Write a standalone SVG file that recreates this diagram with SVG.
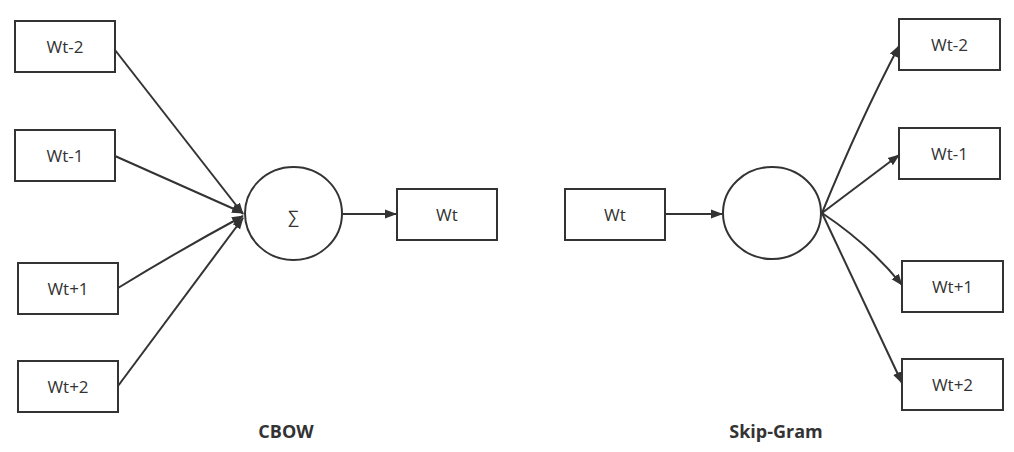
<svg xmlns="http://www.w3.org/2000/svg" width="1014" height="452" viewBox="0 0 1014 452">
<style>
.box{fill:#fff;stroke:#333;stroke-width:2}
.t{font-family:"Open Sans","Noto Sans",sans-serif;font-size:17px;fill:#333;text-anchor:middle;dominant-baseline:central}
.b{font-family:"Open Sans","Noto Sans",sans-serif;font-size:18px;font-weight:bold;fill:#333;text-anchor:middle}
.c{fill:none;stroke:#333;stroke-width:2}
</style>
<defs>
<marker id="ah" viewBox="0 0 12 10" refX="11" refY="5" markerWidth="12" markerHeight="10" markerUnits="userSpaceOnUse" orient="auto">
<path d="M0,0.5 L12,5 L0,9.5 Z" fill="#333"/>
</marker>
</defs>
<rect width="1014" height="452" fill="#fff"/>
<g id="connectors">
<path class="c" d="M115,50 L243,214" marker-end="url(#ah)"/>
<path class="c" d="M115,156 L243,213" marker-end="url(#ah)"/>
<path class="c" d="M118,288 Q180,250 243,216" marker-end="url(#ah)"/>
<path class="c" d="M118,386 L243,218" marker-end="url(#ah)"/>
<path class="c" d="M343,214 L396,214" marker-end="url(#ah)"/>
<path class="c" d="M665,214 L722,214" marker-end="url(#ah)"/>
<path class="c" d="M822,213 Q860,120 899,46" marker-end="url(#ah)"/>
<path class="c" d="M822,213 L899,155" marker-end="url(#ah)"/>
<path class="c" d="M822,213 Q870,245 902,285" marker-end="url(#ah)"/>
<path class="c" d="M822,213 L902,383" marker-end="url(#ah)"/>
</g>
<g id="cbow-wt-2"><rect class="box" x="15" y="21" width="100" height="51"/><text class="t" x="65" y="46.5">Wt-2</text></g>
<g id="cbow-wt-1"><rect class="box" x="15" y="130" width="100" height="51"/><text class="t" x="65" y="155.5">Wt-1</text></g>
<g id="cbow-wt+1"><rect class="box" x="18" y="263" width="100" height="51"/><text class="t" x="68" y="288.5">Wt+1</text></g>
<g id="cbow-wt+2"><rect class="box" x="18" y="361" width="100" height="51"/><text class="t" x="68" y="386.5">Wt+2</text></g>
<g id="cbow-sum"><ellipse class="box" cx="293.5" cy="213.5" rx="48.5" ry="46.5"/><text class="t" x="293.5" y="216">∑</text></g>
<g id="cbow-wt"><rect class="box" x="397" y="189" width="100" height="51"/><text class="t" x="447" y="214.5">Wt</text></g>
<g id="sg-wt"><rect class="box" x="565" y="189" width="100" height="51"/><text class="t" x="615" y="214.5">Wt</text></g>
<g id="sg-hidden"><ellipse class="box" cx="772" cy="213" rx="49" ry="46"/></g>
<g id="sg-wt-2"><rect class="box" x="899" y="19" width="101" height="51"/><text class="t" x="949.5" y="44.5">Wt-2</text></g>
<g id="sg-wt-1"><rect class="box" x="899" y="128" width="101" height="51"/><text class="t" x="949.5" y="153.5">Wt-1</text></g>
<g id="sg-wt+1"><rect class="box" x="902" y="261" width="101" height="51"/><text class="t" x="952.5" y="286.5">Wt+1</text></g>
<g id="sg-wt+2"><rect class="box" x="902" y="359" width="101" height="51"/><text class="t" x="952.5" y="384.5">Wt+2</text></g>
<g id="labels">
<text class="b" x="286" y="438">CBOW</text>
<text class="b" x="776" y="438">Skip-Gram</text>
</g>
</svg>
